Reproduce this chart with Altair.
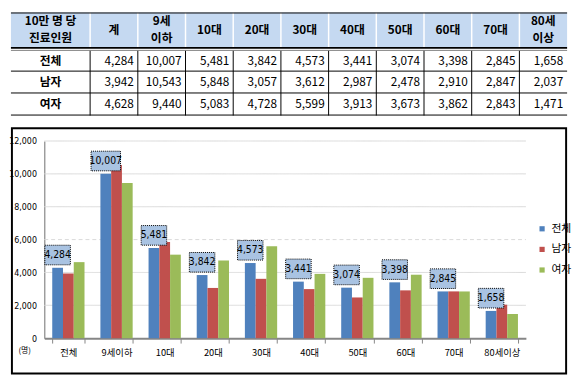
import altair as alt
import pandas as pd

# ---------------- data ----------------
ages = ["전체", "9세이하", "10대", "20대", "30대", "40대", "50대", "60대", "70대", "80세이상"]
header_labels = ["10만 명 당\n진료인원", "계", "9세\n이하", "10대", "20대", "30대",
                 "40대", "50대", "60대", "70대", "80세\n이상"]
groups = ["전체", "남자", "여자"]
total = [4284, 10007, 5481, 3842, 4573, 3441, 3074, 3398, 2845, 1658]
male = [3942, 10543, 5848, 3057, 3612, 2987, 2478, 2910, 2847, 2037]
female = [4628, 9440, 5083, 4728, 5599, 3913, 3673, 3862, 2843, 1471]
y_ticks = [0, 2000, 4000, 6000, 8000, 10000, 12000]
grid_vals = [2000, 4000, 6000, 8000, 10000, 12000]
colors = ["#4F81BD", "#C0504D", "#9BBB59"]

KFONT = "Noto Sans CJK KR"
NARROW = "Liberation Sans Narrow, DejaVu Sans Condensed, Noto Sans CJK KR, sans-serif"

# ---------------- table layout (in column / row units) ----------------
W, H = 567, 332
FIRST_W = 1.66
col_bounds = [0.0, FIRST_W] + [FIRST_W + i for i in range(1, 11)]
TOT_U = col_bounds[-1]
row_bounds = [0.0, 1.57, 2.6, 3.57, 4.57]
DBL = 1.68  # second line of the double rule under the header
TABLE_PX = 105
LINE_H = 17

xs_t = alt.Scale(domain=[0, TOT_U], range=[0, W], nice=False, zero=False)
ys_t = alt.Scale(domain=[0, row_bounds[-1]], range=[0, TABLE_PX], nice=False, zero=False)


def tx(f):
    return alt.X(f, type="quantitative", scale=xs_t, axis=None)


def ty(f):
    return alt.Y(f, type="quantitative", scale=ys_t, axis=None)


hdr_bg = alt.Chart(pd.DataFrame({"x0": [0], "x1": [TOT_U], "y0": [0], "y1": [row_bounds[1]]})).mark_rect(
    color="#C5D9F1").encode(x=tx("x0"), x2="x1", y=ty("y0"), y2="y1")

inner = col_bounds[1:-1]
hdr_vl = alt.Chart(pd.DataFrame({"x": inner, "y0": 0, "y1": row_bounds[1]})).mark_rule(
    color="white", strokeWidth=1.5).encode(x=tx("x"), y=ty("y0"), y2="y1")
body_vl = alt.Chart(pd.DataFrame({"x": inner, "y0": DBL, "y1": row_bounds[-1]})).mark_rule(
    color="black", strokeWidth=1).encode(x=tx("x"), y=ty("y0"), y2="y1")

hl_black = alt.Chart(pd.DataFrame({"y": [0.02, row_bounds[2], row_bounds[3], row_bounds[4] - 0.02],
                                   "x0": 0, "x1": TOT_U})).mark_rule(color="black", strokeWidth=1).encode(
    x=tx("x0"), x2="x1", y=ty("y"))
hl_head = alt.Chart(pd.DataFrame({"y": [row_bounds[1]], "x0": 0, "x1": TOT_U})).mark_rule(
    color="black", strokeWidth=1.6).encode(x=tx("x0"), x2="x1", y=ty("y"))
hl_dbl = alt.Chart(pd.DataFrame({"y": [DBL], "x0": 0, "x1": TOT_U})).mark_rule(
    color="#7F7F7F", strokeWidth=1).encode(x=tx("x0"), x2="x1", y=ty("y"))

hdr_df = pd.DataFrame({
    "x": [(col_bounds[i] + col_bounds[i + 1]) / 2 for i in range(11)],
    "y": row_bounds[1] / 2,
    "t": header_labels,
})
hdr_df["multi"] = hdr_df["t"].str.contains("\n")
hdr_style = dict(font=KFONT, fontSize=12, fontWeight="bold", lineBreak="\n", lineHeight=LINE_H,
                 baseline="middle", align="center", color="black")
hdr_txt1 = alt.Chart(hdr_df).transform_filter("!datum.multi").mark_text(**hdr_style).encode(
    x=tx("x"), y=ty("y"), text="t:N")
hdr_txt2 = alt.Chart(hdr_df).transform_filter("datum.multi").mark_text(dy=-LINE_H / 2 - 0.5, **hdr_style).encode(
    x=tx("x"), y=ty("y"), text="t:N")

row_centers = [(DBL + row_bounds[2]) / 2, (row_bounds[2] + row_bounds[3]) / 2,
               (row_bounds[3] + row_bounds[4]) / 2]
lab_rows = pd.DataFrame({"x": FIRST_W / 2, "y": row_centers, "t": groups})
row_txt = alt.Chart(lab_rows).mark_text(font=KFONT, fontSize=12, fontWeight="bold", baseline="middle",
                                        align="center", color="black").encode(x=tx("x"), y=ty("y"), text="t:N")

cells = []
for r, vals in enumerate([total, male, female]):
    for c, v in enumerate(vals):
        cells.append({"x": col_bounds[c + 2], "y": row_centers[r], "v": v})
num_txt = alt.Chart(pd.DataFrame(cells)).mark_text(font=KFONT, fontSize=12, baseline="middle", align="right",
                                                   dx=-4, color="black").encode(
    x=tx("x"), y=ty("y"), text=alt.Text("v:Q", format=","))

table = alt.layer(hdr_bg, hdr_vl, body_vl, hl_black, hl_head, hl_dbl, hdr_txt1, hdr_txt2, row_txt, num_txt)

# ---------------- bar chart ----------------
X0, X1 = 34, 525
Y_TOP, Y_BOT = 131, 332
Y_MAX = 12000
PXU = (Y_BOT - Y_TOP) / Y_MAX

xband = alt.Scale(domain=ages, range=[X0, X1], paddingInner=0.33, paddingOuter=0.165)
xoff = alt.Scale(domain=groups, paddingInner=0, paddingOuter=0)
yscale = alt.Scale(domain=[0, Y_MAX], range=[Y_BOT, Y_TOP], nice=False, zero=True)

xaxis = alt.Axis(title=None, orient="bottom", labelAngle=0, tickBand="extent", domainColor="#868686",
                 domainWidth=2, tickColor="#868686", tickWidth=1, tickSize=5, labelFont=KFONT,
                 labelFontSize=9.5, labelColor="black", labelPadding=5)
yaxis = alt.Axis(title=None, orient="left", values=y_ticks, labelExpr="format(datum.value, ',')",
                 grid=False, ticks=False, offset=-X0,
                 domainColor="#868686", domainWidth=1.2, labelFont=NARROW, labelFontSize=9,
                 labelColor="black", labelPadding=8)

bar_df = pd.DataFrame([{"cat": a, "grp": g, "v": v}
                       for g, vals in zip(groups, [total, male, female]) for a, v in zip(ages, vals)])

grid = alt.Chart(pd.DataFrame({"v": grid_vals})).mark_rule(color="#D9D9D9", strokeWidth=1).encode(
    y=alt.Y("v:Q", scale=yscale, axis=yaxis),
    x=alt.value(X0), x2=alt.value(X1),
    strokeDash=alt.condition("datum.v == 6000", alt.value([4, 3]), alt.value([1, 0])),
)

bars = alt.Chart(bar_df).mark_bar().encode(
    x=alt.X("cat:N", scale=xband, axis=xaxis, sort=ages),
    xOffset=alt.XOffset("grp:N", scale=xoff, sort=groups),
    y=alt.Y("v:Q", scale=yscale, axis=yaxis),
    color=alt.Color("grp:N", scale=alt.Scale(domain=groups, range=colors), sort=groups,
                    legend=alt.Legend(title=None, orient="none", legendX=536, legendY=215, padding=0,
                                      symbolType="square", symbolSize=28, symbolStrokeWidth=0,
                                      labelFont=KFONT, labelFontSize=11, labelColor="black",
                                      labelOffset=4, rowPadding=9)),
)

lab_df = pd.DataFrame({"cat": ages, "grp": "전체", "v": total})
lab_base = alt.Chart(lab_df).transform_calculate(
    y0=f"datum.v + {3 / PXU}", y1=f"datum.v + {23 / PXU}", yc=f"datum.v + {13 / PXU}",
    bw="datum.v >= 10000 ? 30 : 26",
)
box = lab_base.mark_bar(fill="#A9C3E2", stroke="black", strokeDash=[1, 1], strokeWidth=1).encode(
    x=alt.X("cat:N", scale=xband, axis=xaxis, sort=ages),
    xOffset=alt.XOffset("grp:N", scale=xoff, sort=groups),
    y=alt.Y("y0:Q", scale=yscale, axis=yaxis), y2="y1:Q",
    size=alt.Size("bw:Q", scale=None, legend=None),
)
lab_txt = lab_base.mark_text(font=NARROW, fontSize=10.5, baseline="middle", align="center",
                             color="black").encode(
    x=alt.X("cat:N", scale=xband, axis=xaxis, sort=ages),
    xOffset=alt.XOffset("grp:N", scale=xoff, sort=groups),
    y=alt.Y("yc:Q", scale=yscale, axis=yaxis),
    text=alt.Text("v:Q", format=","),
)

one = pd.DataFrame({"a": [0]})
frame = alt.Chart(one).mark_rect(fill="white", fillOpacity=0, stroke="black", strokeWidth=2).encode(
    x=alt.value(1), x2=alt.value(W - 1), y=alt.value(118), y2=alt.value(368))
unit = alt.Chart(one).mark_text(font=KFONT, fontSize=8, color="black", baseline="middle").encode(
    x=alt.value(14), y=alt.value(345), text=alt.value("(명)"))

bar_chart = alt.layer(frame, grid, bars, box, lab_txt, unit)

chart = alt.layer(table, bar_chart).resolve_scale(x="independent", y="independent").properties(
    width=W, height=H, padding=0, background="white"
).configure_view(stroke=None)

chart.save("out.html", embed_options={"renderer": "svg", "actions": False})
